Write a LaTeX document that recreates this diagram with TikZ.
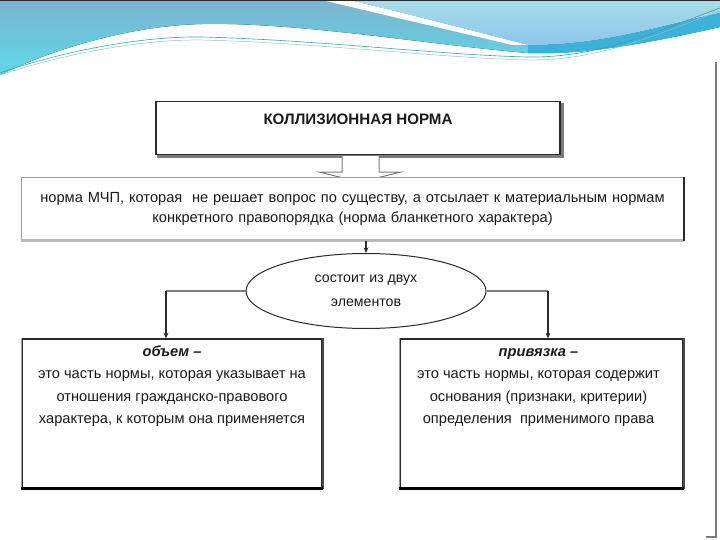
\documentclass[tikz,border=0pt]{standalone}
\usepackage{fontspec}
\setmainfont{Liberation Sans}
\usepackage{xcolor}
\definecolor{ink}{HTML}{1A1A1A}
\definecolor{rim}{HTML}{2A2A2A}
\definecolor{dimrim}{HTML}{9C9C9C}
\definecolor{wire}{HTML}{7C7C7C}
\definecolor{seablue}{HTML}{7BB4CF}
\definecolor{seacyan}{HTML}{5FD8E7}
\definecolor{paleaqua}{HTML}{A9DEE9}
\definecolor{skyblue}{HTML}{8CC4EC}
\definecolor{deepaqua}{HTML}{3CB1DA}
\definecolor{tealline}{HTML}{3A9FB2}
\usetikzlibrary{arrows.meta,positioning,calc,shapes.geometric}
\newcommand{\firstline}{\rule{0pt}{11bp}}
\tikzset{
  >={Stealth[length=2mm,width=1.7mm]},
  titlebox/.style ={draw=rim,line width=1.4bp,fill=white,minimum width=404bp,
                    minimum height=53bp,font=\fontsize{15.2}{17}\selectfont\bfseries,
                    text=ink,text height=11bp,text depth=17bp},
  notebox/.style  ={draw=dimrim,line width=1bp,fill=white,minimum width=661bp,
                    minimum height=62bp,text width=655bp,align=center,text=ink,
                    font=\fontsize{14.7}{21}\selectfont},
  hubellipse/.style={ellipse,draw=rim,line width=1bp,fill=white,minimum width=240bp,
                    minimum height=75bp,align=center,text=ink,
                    font=\fontsize{14.2}{24}\selectfont},
  partbox/.style  ={draw=rim,line width=1.2bp,fill=white,minimum width=300bp,
                    minimum height=149bp},
  parttext/.style ={anchor=north,align=center,text=ink,inner sep=0pt,
                    font=\fontsize{14.7}{22.3}\selectfont},
  link/.style     ={draw=wire,line width=1.5bp},
  drop/.style     ={->,draw=rim,line width=1.1bp},
  hollow/.style   ={draw=wire,line width=1bp,fill=white},
  edgeshade/.style={draw=#1,line width=2.6bp},
}

\begin{document}
\begin{tikzpicture}[x=1bp,y=-1bp]
\useasboundingbox (0,0) rectangle (720,540);

% slide banner
\fill[top color=seablue,bottom color=seacyan] (0,0) -- (720,0) -- (720,27)
  .. controls (640,45) and (580,55) .. (528,53)
  .. controls (430,45) and (300,22) .. (202,24)
  .. controls (120,26) and (40,55) .. (0,75) -- cycle;
\fill[top color=paleaqua,bottom color=skyblue] (349,0) -- (720,0) -- (720,13)
  .. controls (660,26) and (600,46) .. (528,45)
  .. controls (470,30) and (400,12) .. (349,0) -- cycle;
\fill[white] (322,0) -- (349,0) .. controls (400,12) and (470,30) .. (528,45)
  -- (512,45) .. controls (450,30) and (380,14) .. (322,0) -- cycle;
\fill[deepaqua] (528,45) .. controls (600,46) and (660,26) .. (720,13) -- (720,27)
  .. controls (640,45) and (580,55) .. (528,53) -- cycle;
\draw[tealline,line width=0.6bp] (0,73) .. controls (60,52) and (140,36) .. (202,37)
  .. controls (320,40) and (440,55) .. (528,57) .. controls (600,58) and (660,30) .. (720,8);
\draw[tealline!60,line width=0.5bp] (0,75) .. controls (60,55) and (140,39) .. (202,40)
  .. controls (320,43) and (440,58) .. (528,60) .. controls (600,61) and (660,33) .. (720,11);
\fill[rim] (0,0) rectangle (720,1.5);
\draw[wire,line width=1.2bp] (716,62) -- (716,537) -- (706,537);

% title and its hollow arrow
\node[titlebox] (title) at (358,128) {КОЛЛИЗИОННАЯ НОРМА};
\draw[edgeshade=wire] ($(title.north east)+(1.5,2)$) -- ($(title.south east)+(1.5,1.5)$)
  -- ($(title.south west)+(2,1.5)$);
\draw[hollow] ($(title.south)+(-16,1)$) -- ++(0,16) -- ++(-22,0)
  -- ($(title.south)+(2,27)$) -- ($(title.south)+(42,17)$) -- ++(-21,0) -- ++(0,-16);

\node[notebox] (note) at (352.5,209)
 {норма МЧП, которая\ \ не решает вопрос по существу, а отсылает к материальным нормам\\
  конкретного правопорядка (норма бланкетного характера)};
\draw[edgeshade=dimrim!70] (note.south west) -- (note.south east);
\draw[draw=rim,line width=1.4bp] (note.north east) -- (note.south east);

\node[hubellipse] (parts) at (366,291) {состоит из двух\\элементов};
\draw[drop] (parts.north |- note.south) -- (parts.north);

% the two elements
\node[partbox] (scope) at (172,413.5) {};
\node[partbox,minimum width=283bp] (link) at (541.5,413.5) {};
\foreach \b in {scope,link}{
  \draw[draw=dimrim,line width=1.6bp] (\b.north west) -- (\b.south west);
  \draw[draw=rim!85,line width=1.8bp] (\b.north east) -- (\b.south east);
  \draw[edgeshade=black] (\b.south west) -- (\b.south east);
}
\node[parttext] (scopetext) at ($(scope.north)+(0,7)$)
 {\firstline\textbf{\textit{объем –}}\\
  это часть нормы, которая указывает на\\
  отношения гражданско-правового\\
  характера, к которым она применяется};
\node[parttext] (linktext) at ($(link.north)+(-3,7)$)
 {\firstline\textbf{\textit{привязка –}}\\
  это часть нормы, которая содержит\\
  основания (признаки, критерии)\\
  определения\ \ применимого права};

\coordinate (leftbend) at (166,291);
\coordinate (rightbend) at (548,291);
\draw[link] (parts.west) -- (leftbend);
\draw[link] (parts.east) -- (rightbend);
\draw[drop] (leftbend) -- (leftbend |- scope.north);
\draw[drop] (rightbend) -- (rightbend |- link.north);
\end{tikzpicture}
\end{document}
